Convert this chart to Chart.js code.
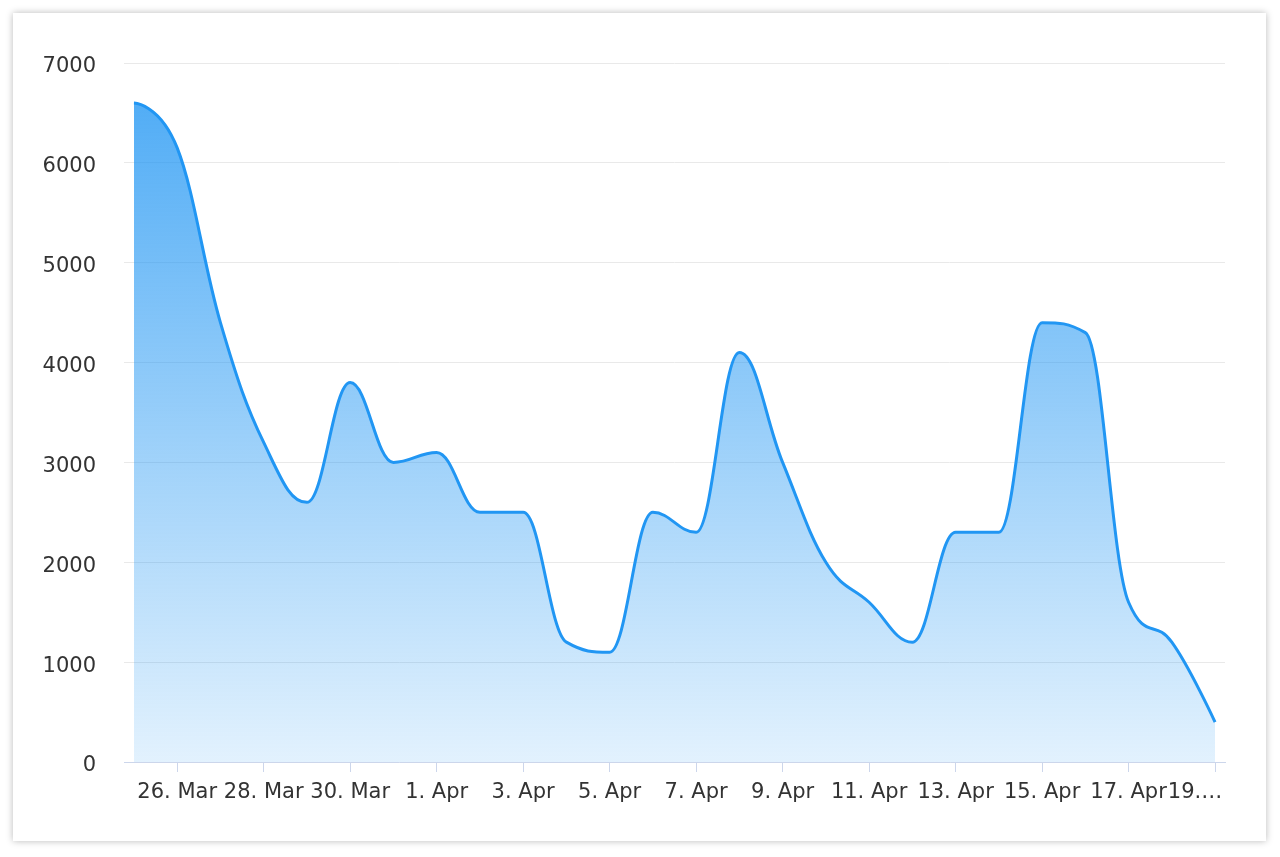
<!DOCTYPE html>
<html>
<head>
<meta charset="utf-8">
<script src="https://cdn.jsdelivr.net/npm/chart.js@4/dist/chart.umd.min.js"></script>
<style>
  html, body { margin: 0; padding: 0; background: #fff; }
  #card {
    position: absolute; left: 13px; top: 13px; width: 1253px; height: 828px;
    background: #fff; box-shadow: 0 0 7px rgba(0,0,0,0.28);
  }
  #wrap { position: absolute; left: 0; top: 0; width: 1280px; height: 857px; }
</style>
</head>
<body>
<div id="card"></div>
<div id="wrap"><canvas id="area-chart"></canvas></div>
<script>
// one point per day, 25 Mar .. 19 Apr
const days = ["25. Mar", "26. Mar", "27. Mar", "28. Mar", "29. Mar", "30. Mar", "31. Mar",
  "1. Apr", "2. Apr", "3. Apr", "4. Apr", "5. Apr", "6. Apr", "7. Apr", "8. Apr", "9. Apr",
  "10. Apr", "11. Apr", "12. Apr", "13. Apr", "14. Apr", "15. Apr", "16. Apr", "17. Apr",
  "18. Apr", "19. Apr"];
const values = [6600, 6150, 4400, 3200, 2600, 3800, 3000, 3100, 2500, 2500, 1200, 1100,
  2500, 2300, 4100, 3000, 2000, 1600, 1200, 2300, 2300, 4400, 4300, 1600, 1200, 400];
const tickDays = [1, 3, 5, 7, 9, 11, 13, 15, 17, 19, 21, 23, 25];
const yTicks = [0, 1000, 2000, 3000, 4000, 5000, 6000, 7000];

const axisColor = "#ccd6eb";
const font = { family: "DejaVu Sans", size: 21 };

// spline control points with smoothing 1.5, clamped so no false extremes
const splinePlugin = {
  id: "spline",
  beforeDraw(chart) {
    const meta = chart.getDatasetMeta(0);
    const pts = meta.data;
    meta.dataset.updateControlPoints(chart.chartArea, "x");
    const s = 1.5, d = s + 1;
    pts.forEach((p, i) => {
      const last = pts[i - 1], next = pts[i + 1];
      if (!last || !next) {
        p.cp1x = p.cp2x = p.x;
        p.cp1y = p.cp2y = p.y;
        return;
      }
      let lx = (s * p.x + last.x) / d, ly = (s * p.y + last.y) / d;
      let rx = (s * p.x + next.x) / d, ry = (s * p.y + next.y) / d;
      let corr = 0;
      if (rx !== lx) corr = ((ry - ly) * (rx - p.x)) / (rx - lx) + p.y - ry;
      ly += corr; ry += corr;
      if (ly > last.y && ly > p.y) { ly = Math.max(last.y, p.y); ry = 2 * p.y - ly; }
      else if (ly < last.y && ly < p.y) { ly = Math.min(last.y, p.y); ry = 2 * p.y - ly; }
      if (ry > next.y && ry > p.y) { ry = Math.max(next.y, p.y); ly = 2 * p.y - ry; }
      else if (ry < next.y && ry < p.y) { ry = Math.min(next.y, p.y); ly = 2 * p.y - ry; }
      p.cp1x = lx; p.cp1y = ly; p.cp2x = rx; p.cp2y = ry;
    });
  }
};

function drawChart() {
  const ctx = document.getElementById("area-chart").getContext("2d");

  new Chart(ctx, {
    type: "line",
    data: {
      datasets: [{
        data: values.map((v, i) => ({ x: i, y: v })),
        borderColor: "#2196f3",
        borderWidth: 3,
        pointRadius: 0,
        tension: 0.4,
        fill: "origin",
        backgroundColor: (c) => {
          const area = c.chart.chartArea;
          if (!area) return "rgba(33,150,243,0.5)";
          const g = c.chart.ctx.createLinearGradient(0, area.top, 0, area.bottom);
          g.addColorStop(0, "rgba(33,150,243,0.82)");
          g.addColorStop(1, "rgba(33,150,243,0.13)");
          return g;
        }
      }]
    },
    plugins: [splinePlugin],
    options: {
      responsive: true,
      maintainAspectRatio: false,
      animation: false,
      layout: { padding: { top: 63, right: 55, bottom: 44, left: 0 } },
      plugins: { legend: { display: false }, tooltip: { enabled: false } },
      scales: {
        x: {
          type: "linear",
          min: -0.23,
          max: 25.23,
          afterBuildTicks: (axis) => { axis.ticks = tickDays.map(v => ({ value: v })); },
          afterFit: (axis) => { axis.height = 51; },
          border: { color: axisColor, width: 1 },
          grid: { drawOnChartArea: false, color: axisColor, tickLength: 10 },
          ticks: {
            autoSkip: false, maxRotation: 0, padding: 8,
            color: "#333", font: font,
            // last label is cut short and pulled inside the plot
            callback: (v) => v === 25 ? "19.…      " : days[v]
          }
        },
        y: {
          min: 0,
          max: 7000,
          afterBuildTicks: (axis) => { axis.ticks = yTicks.map(v => ({ value: v })); },
          afterFit: (axis) => { axis.width = 124; },
          border: { display: false },
          grid: { color: "#e9e9e9", drawTicks: false },
          ticks: { padding: 28, labelOffset: 4, color: "#333", font: font, callback: (v) => String(v) }
        }
      }
    }
  });
}

drawChart();
</script>
</body>
</html>
